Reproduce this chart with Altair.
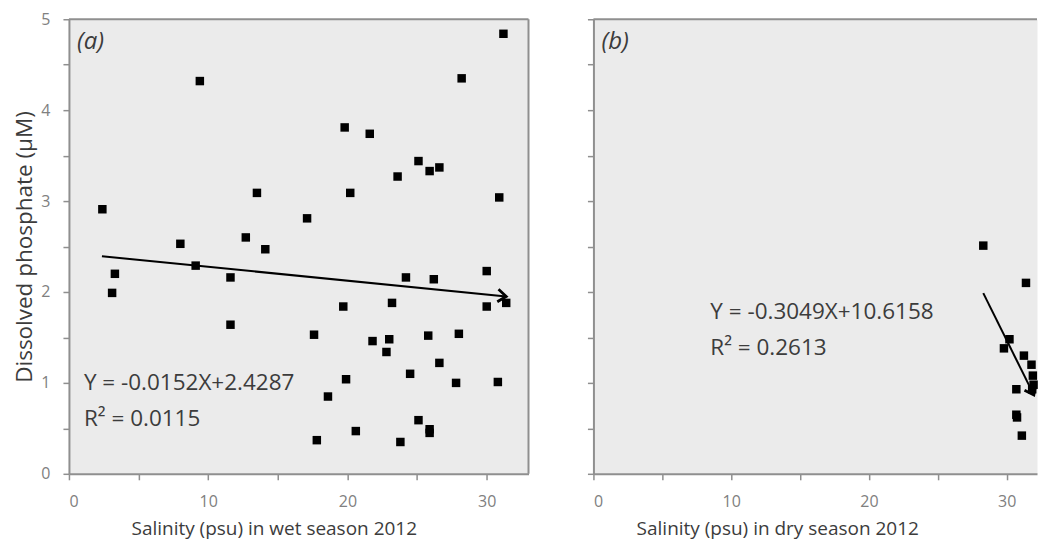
import math
import altair as alt
import pandas as pd

# ---------------- data ----------------
wet_salinity = [2.4, 3.3, 3.1, 8.0, 9.1, 9.4, 11.6, 11.6, 12.7, 13.5, 14.1,
                17.1, 17.6, 17.8, 18.6, 19.7, 19.8, 19.9, 20.2, 20.6,
                21.6, 21.8, 22.8, 23.0, 23.2, 23.6, 23.8, 24.2, 24.5,
                25.1, 25.1, 25.8, 25.9, 25.9, 25.9, 26.2, 26.6, 26.6,
                27.8, 28.0, 28.2, 30.0, 30.0, 30.8, 30.9, 31.2, 31.4]
wet_phosphate = [2.91, 2.20, 1.99, 2.53, 2.29, 4.32, 2.16, 1.64, 2.60, 3.09, 2.47,
                 2.81, 1.53, 0.37, 0.85, 1.84, 3.81, 1.04, 3.09, 0.47,
                 3.74, 1.46, 1.34, 1.48, 1.88, 3.27, 0.35, 2.16, 1.10,
                 3.44, 0.59, 1.52, 3.33, 0.49, 0.45, 2.14, 3.37, 1.22,
                 1.00, 1.54, 4.35, 2.23, 1.84, 1.01, 3.04, 4.84, 1.88]

dry_salinity = [28.3, 31.4, 30.2, 29.8, 31.25, 31.8, 31.9, 31.95, 30.7, 31.85, 30.7, 30.75, 31.1]
dry_phosphate = [2.51, 2.10, 1.48, 1.38, 1.30, 1.20, 1.08, 0.98, 0.93, 0.93, 0.65, 0.62, 0.42]

wet_fit = {"slope": -0.0152, "intercept": 2.4287, "x_range": [2.37, 31.4]}
dry_fit = {"slope": -0.3049, "intercept": 10.6158, "x_range": [28.3, 31.97]}

wet_labels = {"panel": "(a)", "eq": "Y = -0.0152X+2.4287", "r2": "R² = 0.0115",
              "xtitle": "Salinity (psu) in wet season 2012"}
dry_labels = {"panel": "(b)", "eq": "Y = -0.3049X+10.6158", "r2": "R² = 0.2613",
              "xtitle": "Salinity (psu) in dry season 2012"}

x_ticks = [0, 5, 10, 15, 20, 25, 30]
y_ticks = [0, 0.5, 1, 1.5, 2, 2.5, 3, 3.5, 4, 4.5, 5]

# ---------------- styling ----------------
FONT = "Open Sans"
AXIS_GRAY = "#8f8f8f"
LABEL_GRAY = "#808080"
TEXT_DARK = "#3c3c3c"
PANEL_H = 455


def panel(sal, pho, fit, labels, x_max, width, show_y, eq_pos, title_x):
    pts = pd.DataFrame({"x": sal, "y": pho})
    xs = fit["x_range"]
    line_df = pd.DataFrame({"x": xs, "y": [fit["slope"] * v + fit["intercept"] for v in xs]})
    tip_df = line_df.iloc[[1]]

    x_enc = alt.X("x:Q", scale=alt.Scale(domain=[0, x_max], nice=False, zero=True),
                  axis=alt.Axis(values=x_ticks, title=labels["xtitle"], titleX=title_x,
                                labelExpr="datum.value % 10 == 0 ? datum.label : ''"))
    if show_y:
        y_axis = alt.Axis(values=y_ticks, title="Dissolved phosphate (μM)",
                          labelExpr="datum.value % 1 == 0 ? format(datum.value, 'd') : ''")
    else:
        y_axis = alt.Axis(values=y_ticks, title="", labels=False, titlePadding=0)
    y_enc = alt.Y("y:Q", scale=alt.Scale(domain=[0, 5], nice=False), axis=y_axis)

    points = alt.Chart(pts).mark_square(size=72, color="black", opacity=1).encode(x=x_enc, y=y_enc)
    line = alt.Chart(line_df).mark_line(color="black", strokeWidth=2).encode(x=x_enc, y=y_enc)

    px_per_x = width / x_max
    px_per_y = PANEL_H / 5
    angle = math.degrees(math.atan(-fit["slope"] * px_per_y / px_per_x))
    head = alt.Chart(tip_df).mark_point(
        shape="M-1,-0.75L0,0L-1,0.75", filled=False, stroke="black", strokeWidth=2.8,
        size=280, angle=angle, opacity=1
    ).encode(x=x_enc, y=y_enc)

    one = pd.DataFrame({"k": [0]})
    txt = dict(font=FONT, fontSize=22.5, color=TEXT_DARK, align="left", baseline="alphabetic")
    eq = alt.Chart(one).mark_text(text=labels["eq"], **txt).encode(
        x=alt.value(eq_pos[0]), y=alt.value(eq_pos[1]))
    r2 = alt.Chart(one).mark_text(text=labels["r2"], **txt).encode(
        x=alt.value(eq_pos[0]), y=alt.value(eq_pos[1] + 36))
    tag = alt.Chart(one).mark_text(text=labels["panel"], font=FONT, fontSize=24, fontStyle="italic",
                                   color=TEXT_DARK, align="left", baseline="alphabetic").encode(
        x=alt.value(8), y=alt.value(30))

    top = alt.Chart(one).mark_rule(color=AXIS_GRAY, strokeWidth=2).encode(
        x=alt.value(0), x2=alt.value(width), y=alt.value(0))
    layers = [top, points, line, head, eq, r2, tag]
    if show_y:
        right = alt.Chart(one).mark_rule(color=AXIS_GRAY, strokeWidth=2).encode(
            x=alt.value(width), y=alt.value(0), y2=alt.value(PANEL_H))
        layers.insert(1, right)
    return alt.layer(*layers).properties(width=width, height=PANEL_H)


left = panel(wet_salinity, wet_phosphate, wet_fit, wet_labels, 33.0, 460, True, (15, 371), 205)
right = panel(dry_salinity, dry_phosphate, dry_fit, dry_labels, 32.2, 444, False, (117, 300), 184)

chart = alt.hconcat(left, right, spacing=55).properties(
    padding={"left": 5, "top": 2, "right": 0, "bottom": 0}
).configure_view(
    fill="#ebebeb", stroke="transparent"
).configure_axis(
    domainColor=AXIS_GRAY, domainWidth=2, tickColor=AXIS_GRAY, tickWidth=1.5, tickSize=6,
    grid=False, labelFont=FONT, labelFontSize=16, labelColor=LABEL_GRAY,
    titleFont=FONT, titleColor=TEXT_DARK, titleFontWeight="normal"
).configure_axisX(
    labelPadding=14, titleFontSize=19, titlePadding=10
).configure_axisY(
    labelPadding=13, titleFontSize=22.5, titlePadding=4
)

chart.save("out.html", embed_options={"renderer": "svg", "actions": False})
